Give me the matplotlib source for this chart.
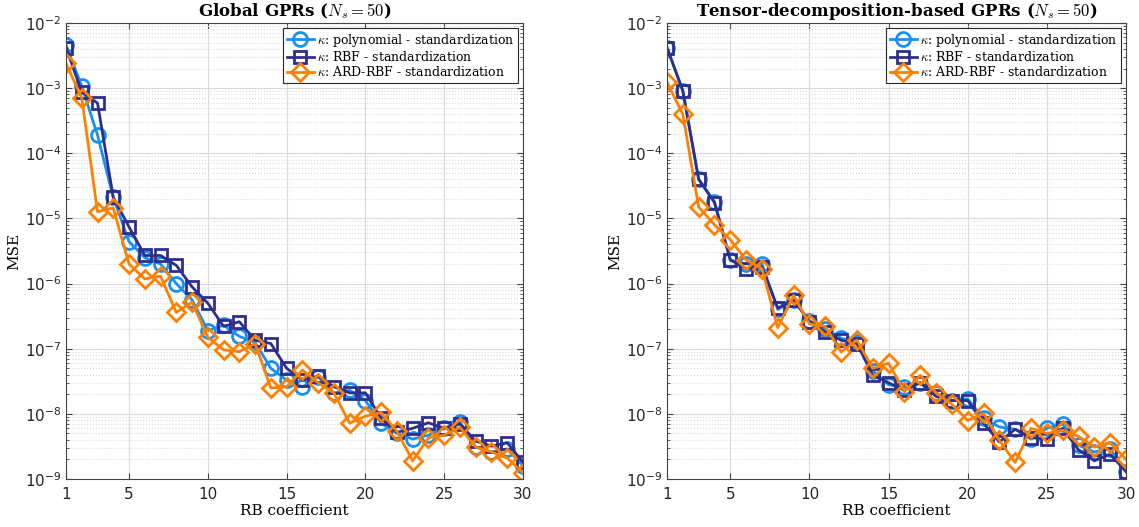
import numpy as np
import matplotlib
matplotlib.use("Agg")
import matplotlib.pyplot as plt
from matplotlib.ticker import FixedLocator, NullFormatter

plt.rcParams['mathtext.fontset'] = 'cm'

rb = np.arange(1, 31)

# Global GPRs
g_poly = [4.6e-3, 1.07e-3, 1.9e-4, 2.1e-5, 4.4e-6, 2.5e-6, 2.0e-6, 1.0e-6, 5.6e-7, 1.9e-7,
          2.3e-7, 1.55e-7, 1.25e-7, 5.0e-8, 3.3e-8, 2.6e-8, 3.7e-8, 2.1e-8, 2.3e-8, 1.6e-8,
          7.2e-9, 5.0e-9, 4.1e-9, 4.7e-9, 6.0e-9, 7.5e-9, 3.1e-9, 2.6e-9, 2.9e-9, 1.6e-9]
g_rbf = [4.2e-3, 8.7e-4, 5.9e-4, 2.1e-5, 7.4e-6, 2.7e-6, 2.7e-6, 1.9e-6, 8.9e-7, 5.0e-7,
         2.2e-7, 2.6e-7, 1.35e-7, 1.2e-7, 5.0e-8, 3.3e-8, 3.8e-8, 2.6e-8, 2.1e-8, 2.1e-8,
         8.5e-9, 5.2e-9, 6.0e-9, 7.3e-9, 6.0e-9, 7.0e-9, 3.8e-9, 3.2e-9, 3.6e-9, 1.8e-9]
g_ard = [2.4e-3, 7.1e-4, 1.27e-5, 1.45e-5, 2.0e-6, 1.18e-6, 1.3e-6, 3.6e-7, 5.2e-7, 1.5e-7,
         9.6e-8, 9.0e-8, 1.2e-7, 2.5e-8, 2.6e-8, 4.7e-8, 3.0e-8, 2.1e-8, 7.2e-9, 9.2e-9,
         1.05e-8, 5.4e-9, 1.9e-9, 4.3e-9, 4.7e-9, 6.2e-9, 3.1e-9, 2.6e-9, 2.1e-9, 1.25e-9]

# Tensor-decomposition-based GPRs
t_poly = [4.2e-3, 9.1e-4, 4.0e-5, 1.8e-5, 2.3e-6, 2.0e-6, 2.0e-6, 4.0e-7, 5.6e-7, 2.7e-7,
          2.0e-7, 1.45e-7, 1.25e-7, 4.6e-8, 2.8e-8, 2.6e-8, 3.0e-8, 2.1e-8, 1.6e-8, 1.7e-8,
          8.5e-9, 6.3e-9, 5.8e-9, 4.1e-9, 6.0e-9, 7.0e-9, 3.3e-9, 2.6e-9, 2.9e-9, 1.3e-9]
t_rbf = [4.2e-3, 9.1e-4, 4.0e-5, 1.75e-5, 2.3e-6, 1.7e-6, 1.8e-6, 4.2e-7, 5.6e-7, 2.6e-7,
         1.8e-7, 1.35e-7, 1.2e-7, 3.9e-8, 3.0e-8, 2.3e-8, 3.0e-8, 1.85e-8, 1.6e-8, 1.6e-8,
         7.2e-9, 3.7e-9, 5.8e-9, 4.3e-9, 4.1e-9, 6.0e-9, 2.8e-9, 1.9e-9, 2.4e-9, 1.3e-9]
t_ard = [1.24e-3, 4.0e-4, 1.5e-5, 8.0e-6, 4.7e-6, 2.3e-6, 1.7e-6, 2.1e-7, 6.6e-7, 2.4e-7,
         2.2e-7, 8.9e-8, 1.35e-7, 5.0e-8, 6.0e-8, 2.2e-8, 3.9e-8, 2.1e-8, 1.4e-8, 7.9e-9,
         1.02e-8, 3.9e-9, 1.8e-9, 6.0e-9, 5.0e-9, 5.6e-9, 4.5e-9, 3.1e-9, 3.6e-9, 2.0e-9]

labels = [r'$\kappa$: polynomial - standardization',
          r'$\kappa$: RBF - standardization',
          r'$\kappa$: ARD-RBF - standardization']
colors = ['#1590F5', '#2E2E8E', '#FF8000']
markers = ['o', 's', 'D']
msizes = [10, 9, 9]

xticks = [1, 5, 10, 15, 20, 25, 30]
major_y = [10.0 ** e for e in range(-9, -1)]
minor_y = [m * 10.0 ** e for e in range(-9, -2) for m in range(2, 10)]

fig = plt.figure(figsize=(11.39, 5.27), dpi=100)
W, H = 1139, 527
ax1 = fig.add_axes([66 / W, 1 - 479 / H, (523 - 66) / W, (479 - 23) / H])
ax2 = fig.add_axes([667 / W, 1 - 479 / H, (1126 - 667) / W, (479 - 23) / H])

panels = [(ax1, [g_poly, g_rbf, g_ard], r'Global GPRs ($N_s = 50$)'),
          (ax2, [t_poly, t_rbf, t_ard], r'Tensor-decomposition-based GPRs ($N_s = 50$)')]

for ax, series, title in panels:
    for vals, c, m, ms, lab in zip(series, colors, markers, msizes, labels):
        ax.semilogy(rb, vals, color=c, marker=m, markersize=ms, markerfacecolor='none',
                    markeredgewidth=2, linewidth=2, label=lab)
    ax.set_xlim(1, 30)
    ax.set_ylim(1e-9, 1e-2)
    ax.set_xticks(xticks)
    ax.yaxis.set_major_locator(FixedLocator(major_y))
    ax.yaxis.set_minor_locator(FixedLocator(minor_y))
    ax.yaxis.set_minor_formatter(NullFormatter())
    ax.grid(True, which='major', color='#d9d9d9', linewidth=0.8)
    ax.grid(True, which='minor', axis='y', color='#d9d9d9', linestyle=':', linewidth=0.8)
    ax.set_axisbelow(True)
    ax.tick_params(which='both', direction='in', top=True, right=True, color='#444444',
                   labelsize=11, labelcolor='#262626')
    ax.tick_params(which='minor', length=2.5)
    ax.tick_params(which='major', length=4)
    ax.tick_params(axis='x', pad=6)
    for s in ax.spines.values():
        s.set_color('#444444')
        s.set_linewidth(0.8)
    ax.set_title(title, fontsize=12, fontweight='bold', family='serif', pad=5)
    ax.set_xlabel('RB coefficient', fontsize=11, family='serif', labelpad=1)
    ax.set_ylabel('MSE', fontsize=11, family='serif', labelpad=2)
    leg = ax.legend(loc='upper right', prop={'family': 'serif', 'size': 9},
                    handlelength=2.2, handletextpad=0.2, borderpad=0.3, labelspacing=0.1,
                    fancybox=False, framealpha=1, borderaxespad=0.4)
    leg.get_frame().set_edgecolor('#262626')
    leg.get_frame().set_linewidth(0.8)

fig.savefig('out.png', dpi=100)
